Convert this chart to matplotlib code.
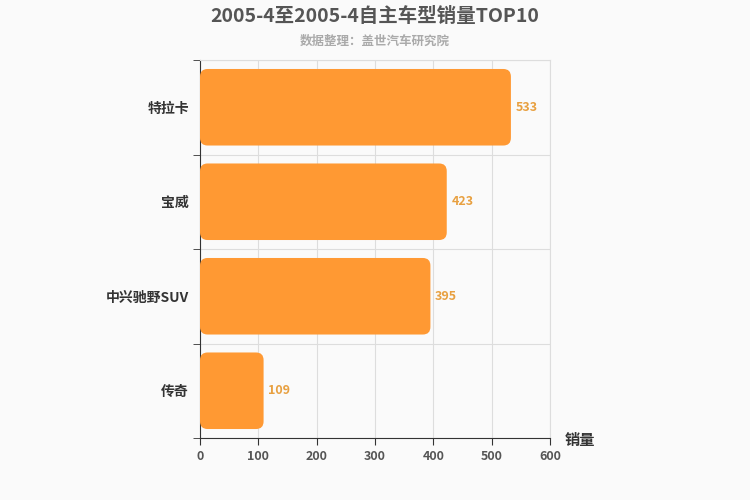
import matplotlib
matplotlib.use("Agg")
import matplotlib.pyplot as plt
from matplotlib.patches import FancyBboxPatch

plt.rcParams['font.family'] = ['Noto Sans CJK SC', 'DejaVu Sans']

categories = ["特拉卡", "宝威", "中兴驰野SUV", "传奇"]
values = [533, 423, 395, 109]

fig = plt.figure(figsize=(7.5, 5), dpi=100, facecolor="#FAFAFA")
ax = fig.add_axes([200/750, 1-438/500, 350/750, 378/500])
ax.set_facecolor("#FAFAFA")
n = len(categories)
ys = list(range(n))[::-1]
h = 0.81
for y, v in zip(ys, values):
    p = FancyBboxPatch((0, y - h/2), v, h,
                       boxstyle="round,pad=0,rounding_size=13",
                       mutation_aspect=0.0062,
                       facecolor="#FF9933", edgecolor="none", zorder=3)
    ax.add_patch(p)
    ax.text(v + 8, y, str(v), va="center", ha="left", color="#E8A040",
            fontsize=9, fontweight="bold", zorder=4)

ax.set_xlim(0, 600)
ax.set_ylim(-0.5, n - 0.5)
ax.set_xticks(range(0, 601, 100))
ax.set_yticks(ys)
ax.set_yticklabels(categories, fontsize=10, fontweight="bold", color="#333333")
ax.set_yticks([i - 0.5 for i in range(n + 1)], minor=True)
ax.tick_params(axis="y", which="major", length=0, pad=8)
ax.tick_params(axis="y", which="minor", length=5, color="#333333")
ax.tick_params(axis="x", length=5, color="#333333", labelsize=9, labelcolor="#555555")
for lab in ax.get_xticklabels():
    lab.set_fontweight("bold")
ax.grid(axis="x", which="major", color="#DDDDDD", lw=0.8, zorder=0)
ax.grid(axis="y", which="minor", color="#DDDDDD", lw=0.8, zorder=0)
for s in ["top", "right"]:
    ax.spines[s].set_color("#DDDDDD")
for s in ["left", "bottom"]:
    ax.spines[s].set_color("#333333")

fig.text(0.5, 1-16/500, "2005-4至2005-4自主车型销量TOP10", ha="center", va="center",
         fontsize=14, fontweight="bold", color="#555555")
fig.text(0.5, 1-41/500, "数据整理：盖世汽车研究院", ha="center", va="center",
         fontsize=9, fontweight="bold", color="#AAAAAA")
fig.text(580/750, 1-440/500, "销量", ha="center", va="center",
         fontsize=11, fontweight="bold", color="#333333")

fig.savefig("out.png", dpi=100, facecolor=fig.get_facecolor())
